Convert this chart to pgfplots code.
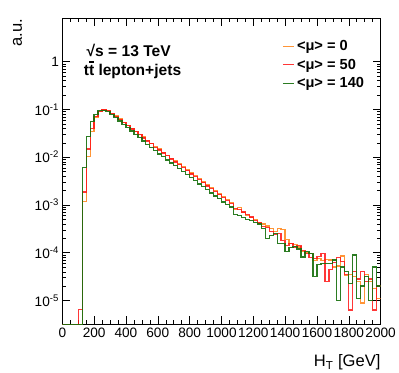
\documentclass[border=0pt]{standalone}
\usepackage{fontspec}
\setmainfont{Liberation Sans}
\usepackage{pgfplots}
\pgfplotsset{compat=1.18}
\usepackage{pgfplotstable}

\definecolor{muzero}{RGB}{255,130,20}
\definecolor{mufifty}{RGB}{255,20,20}
\definecolor{muhigh}{RGB}{20,110,10}

% t with a bar over it
\newcommand{\tbar}{\rlap{\raisebox{0.80em}{\kern0.02em\rule{0.30em}{0.075em}}}t}

% H_T histograms, 25 GeV bins, low edge in first column
% empty bins put at the frame bottom (3.2e-6)
\pgfplotstableread{
x    mu0      mu50     mu140
0    3.2e-6   3.2e-6   3.2e-6
25   3.2e-6   3.2e-6   3.2e-6
50   3.2e-6   3.2e-6   3.2e-6
75   3.2e-6   3.2e-6   3.2e-6
100  3.2e-6   6.5e-6   3.2e-6
125  1.20e-3  1.86e-3  6.03e-3
150  1.02e-2  1.48e-2  2.75e-2
175  3.51e-2  3.98e-2  5.62e-2
200  6.92e-2  7.08e-2  7.76e-2
225  8.91e-2  9.12e-2  9.33e-2
250  9.77e-2  9.77e-2  9.55e-2
275  9.33e-2  9.33e-2  9.12e-2
300  8.32e-2  8.32e-2  7.94e-2
325  7.24e-2  7.08e-2  6.76e-2
350  6.31e-2  6.17e-2  5.75e-2
375  5.37e-2  5.25e-2  4.90e-2
400  4.68e-2  4.57e-2  4.17e-2
425  3.98e-2  3.89e-2  3.55e-2
450  3.47e-2  3.39e-2  3.02e-2
475  3.02e-2  2.95e-2  2.57e-2
500  2.63e-2  2.51e-2  2.19e-2
525  2.26e-2  2.19e-2  1.86e-2
550  1.95e-2  1.91e-2  1.58e-2
575  1.70e-2  1.62e-2  1.38e-2
600  1.48e-2  1.41e-2  1.17e-2
625  1.27e-2  1.23e-2  1.02e-2
650  1.10e-2  1.07e-2  8.71e-3
675  9.55e-3  9.12e-3  7.59e-3
700  8.32e-3  7.94e-3  6.61e-3
725  7.24e-3  6.92e-3  5.75e-3
750  6.31e-3  6.03e-3  5.01e-3
775  5.37e-3  5.25e-3  4.27e-3
800  4.68e-3  4.47e-3  3.72e-3
825  4.07e-3  3.98e-3  3.24e-3
850  3.55e-3  3.39e-3  2.75e-3
875  3.02e-3  2.95e-3  2.40e-3
900  2.63e-3  2.51e-3  2.09e-3
925  2.29e-3  2.19e-3  1.78e-3
950  2.00e-3  1.91e-3  1.55e-3
975  1.70e-3  1.66e-3  1.35e-3
1000 1.48e-3  1.41e-3  1.15e-3
1025 1.29e-3  1.23e-3  1.02e-3
1050 1.12e-3  1.07e-3  9.12e-4
1075 7.94e-4  8.32e-4  6.31e-4
1100 8.71e-4  7.94e-4  6.03e-4
1125 6.92e-4  7.08e-4  5.50e-4
1150 6.03e-4  6.31e-4  5.01e-4
1175 5.37e-4  5.62e-4  4.68e-4
1200 5.01e-4  4.79e-4  4.37e-4
1225 4.37e-4  4.17e-4  3.98e-4
1250 3.98e-4  3.55e-4  3.16e-4
1275 3.63e-4  3.39e-4  2.00e-4
1300 3.16e-4  2.82e-4  2.29e-4
1325 2.82e-4  2.40e-4  2.51e-4
1350 3.16e-4  2.51e-4  1.58e-4
1375 3.02e-4  1.78e-4  1.58e-4
1400 1.91e-4  1.41e-4  1.07e-4
1425 1.58e-4  1.58e-4  1.29e-4
1450 1.48e-4  1.32e-4  1.35e-4
1475 1.32e-4  1.41e-4  1.20e-4
1500 1.05e-4  1.12e-4  8.13e-5
1525 1.00e-4  9.55e-5  1.07e-4
1550 9.55e-5  7.94e-5  9.77e-5
1575 6.92e-5  7.59e-5  3.16e-5
1600 7.59e-5  8.32e-5  5.62e-5
1625 6.92e-5  9.55e-5  6.03e-5
1650 7.24e-5  2.51e-5  6.03e-5
1675 7.08e-5  4.47e-5  6.03e-5
1700 5.01e-5  6.31e-5  7.08e-5
1725 5.25e-5  7.94e-5  1.00e-5
1750 8.51e-5  6.61e-5  5.01e-5
1775 3.31e-5  3.55e-5  3.98e-5
1800 3.55e-5  6.31e-6  2.24e-5
1825 3.16e-5  3.98e-5  8.91e-5
1850 2.51e-5  2.82e-5  1.12e-5
1875 8.91e-6  3.98e-5  2.00e-5
1900 3.55e-5  2.51e-5  3.16e-5
1925 2.51e-5  2.82e-5  1.00e-5
1950 1.78e-5  6.31e-6  5.01e-5
1975 1.12e-5  2.00e-5  2.00e-5
2000 1.12e-5  2.00e-5  2.00e-5
}\htdata

\begin{document}
\begin{tikzpicture}
\begin{axis}[
    at={(0pt,0pt)}, anchor=south west,
    scale only axis,
    width=327pt, height=314pt,
    ymode=log,
    xmin=0, xmax=2000,
    ymin=3.2e-6, ymax=8,
    xtick={0,200,...,2000},
    minor x tick num=3,
    ytick={1e-5,1e-4,1e-3,1e-2,1e-1,1},
    yticklabels={10\textsuperscript{-5},10\textsuperscript{-4},10\textsuperscript{-3},
                 10\textsuperscript{-2},10\textsuperscript{-1},1},
    /pgf/number format/assume math mode=true,
    /pgf/number format/1000 sep={},
    tick label style={font=\fontsize{14}{14}\selectfont},
    major tick length=8pt, minor tick length=4pt,
    tick style={black, line width=0.5pt},
    axis line style={line width=0.8pt},
    xtick pos=both, ytick pos=both,
    xlabel={H\textsubscript{T} [GeV]},
    xlabel style={at={(rel axis cs:1,0)}, anchor=north east, yshift=-31pt,
                  inner sep=0pt, font=\fontsize{17}{17}\selectfont},
    ylabel={a.u.},
    ylabel style={at={(rel axis cs:0,1)}, anchor=east, xshift=0pt, yshift=46pt,
                  inner sep=0pt, font=\fontsize{17}{17}\selectfont},
    legend style={at={(rel axis cs:0.69,0.935)}, anchor=north west,
                  draw=none, fill=none, font=\bfseries\fontsize{15}{15}\selectfont,
                  row sep=3pt, inner sep=0pt},
    legend cell align=left,
    legend image code/.code={\draw[#1, line width=1.3pt] (0pt,0pt) -- (12pt,0pt);},
    every axis plot/.append style={const plot mark left, mark=none, line width=1.3pt},
  ]
  \addplot[muzero, opacity=0.85] table[x=x, y=mu0] {\htdata};
  \addlegendentry{<μ> = 0}
  \addplot[mufifty, opacity=0.85] table[x=x, y=mu50] {\htdata};
  \addlegendentry{<μ> = 50}
  \addplot[muhigh, opacity=0.9] table[x=x, y=mu140] {\htdata};
  \addlegendentry{<μ> = 140}

  \node[anchor=base west, font=\bfseries\fontsize{16}{16}\selectfont, inner sep=0pt]
    at (rel axis cs:0.076,0.876) {√s = 13 TeV};
  \node[anchor=base west, font=\bfseries\fontsize{16}{16}\selectfont, inner sep=0pt]
    at (rel axis cs:0.067,0.815) {t\tbar{} lepton+jets};
\end{axis}
\path[use as bounding box] (-64pt,-50pt) rectangle (335pt,333pt);
\end{tikzpicture}
\end{document}
